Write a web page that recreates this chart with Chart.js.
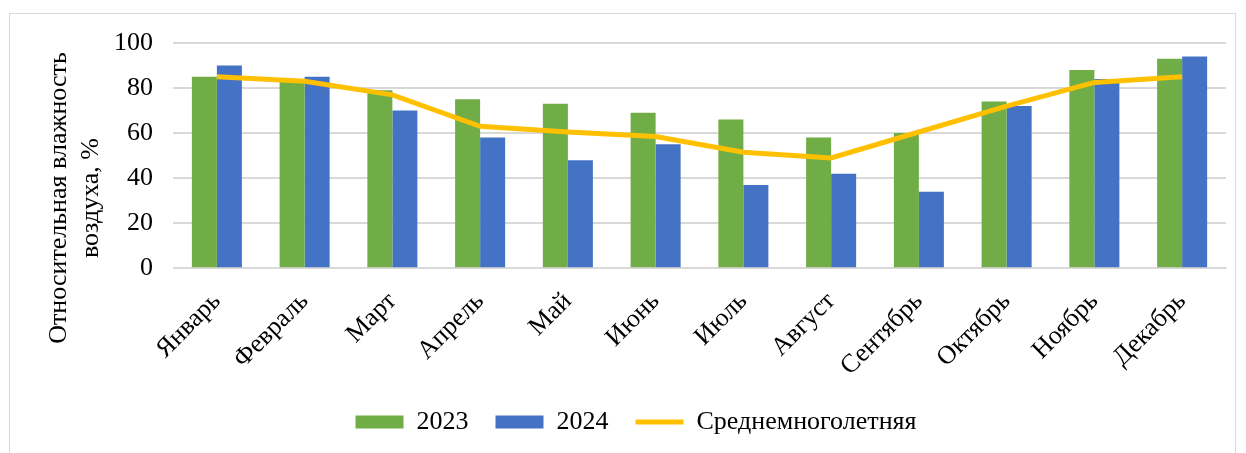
<!DOCTYPE html>
<html>
<head>
<meta charset="utf-8">
<script src="https://cdn.jsdelivr.net/npm/chart.js@4"></script>
<style>
  html, body { margin: 0; padding: 0; background: #fff; }
  #wrap { position: relative; width: 1246px; height: 453px; }
  #frame { position: absolute; left: 9px; top: 13px; width: 1227px; height: 445px; border: 1px solid #d9d9d9; box-sizing: border-box; }
  #c { position: absolute; left: 0; top: 0; }
</style>
</head>
<body>
<div id="wrap">
  <div id="frame"></div>
  <canvas id="c" width="1246" height="453"></canvas>
</div>
<script>
// Месяцы
const months = ["Январь", "Февраль", "Март", "Апрель", "Май", "Июнь", "Июль", "Август", "Сентябрь", "Октябрь", "Ноябрь", "Декабрь"];
// Относительная влажность, %
const hum2023 = [85, 84, 79, 75, 73, 69, 66, 58, 60, 74, 88, 93];
const hum2024 = [90, 85, 70, 58, 48, 55, 37, 42, 34, 72, 84, 94];
const humAvg = [85, 83, 77, 63, 60.5, 58.5, 51.5, 49, 60.5, 72, 82.5, 85];
const yTicks = [0, 20, 40, 60, 80, 100];
const yTitle = ["Относительная влажность", "воздуха, %"];

const serif = "'Liberation Serif', 'Times New Roman', serif";

// подпись оси Y, смещённая ниже центра как в оригинале
const yTitlePlugin = {
  id: "yTitle",
  afterDraw(chart) {
    const c = chart.ctx;
    c.save();
    c.font = "26px " + serif;
    c.fillStyle = "#000";
    c.textAlign = "center";
    c.textBaseline = "middle";
    const xs = [59, 91];
    yTitle.forEach((t, i) => {
      c.save();
      c.translate(xs[i], 198);
      c.rotate(-Math.PI / 2);
      c.fillText(t, 0, 0);
      c.restore();
    });
    c.restore();
  }
};

const ctx = document.getElementById("c").getContext("2d");
new Chart(ctx, {
  type: "bar",
  data: {
    labels: months,
    datasets: [
      {
        label: "2023",
        data: hum2023,
        backgroundColor: "#70AD47",
        order: 1
      },
      {
        label: "2024",
        data: hum2024,
        backgroundColor: "#4472C4",
        order: 1
      },
      {
        type: "line",
        label: "Среднемноголетняя",
        data: humAvg,
        borderColor: "#FFC000",
        backgroundColor: "#FFC000",
        borderWidth: 5,
        pointRadius: 0,
        tension: 0,
        order: 0
      }
    ]
  },
  options: {
    responsive: false,
    animation: false,
    layout: { padding: { left: 46, right: 20, top: 43, bottom: 8 } },
    datasets: {
      bar: { categoryPercentage: 0.57, barPercentage: 1.0 }
    },
    scales: {
      x: {
        grid: { display: false },
        border: { color: "#d9d9d9" },
        afterFit: (axis) => { axis.height -= 10; },
        ticks: {
          color: "#000",
          font: { family: serif, size: 26 },
          maxRotation: 45,
          minRotation: 45,
          padding: 10
        }
      },
      y: {
        min: 0,
        max: 100,
        afterBuildTicks: (axis) => { axis.ticks = yTicks.map(v => ({ value: v })); },
        afterFit: (axis) => { axis.width += 48; },
        grid: { color: "#d9d9d9", lineWidth: 2, drawTicks: false },
        border: { display: false },
        ticks: {
          color: "#000",
          font: { family: serif, size: 26 },
          padding: 20
        }
      }
    },
    plugins: {
      legend: {
        position: "bottom",
        labels: {
          color: "#000",
          font: { family: serif, size: 26 },
          usePointStyle: true,
          boxHeight: 13,
          pointStyleWidth: 48,
          padding: 27,
          generateLabels: (chart) => chart.data.datasets.map((ds, i) => ({
            text: ds.label,
            fillStyle: ds.backgroundColor,
            strokeStyle: ds.type === "line" ? ds.borderColor : ds.backgroundColor,
            lineWidth: ds.type === "line" ? 5 : 0,
            pointStyle: ds.type === "line" ? "line" : "rect",
            hidden: false,
            datasetIndex: i,
            fontColor: "#000"
          }))
        }
      },
      tooltip: { enabled: false }
    }
  },
  plugins: [yTitlePlugin]
});
</script>
</body>
</html>
